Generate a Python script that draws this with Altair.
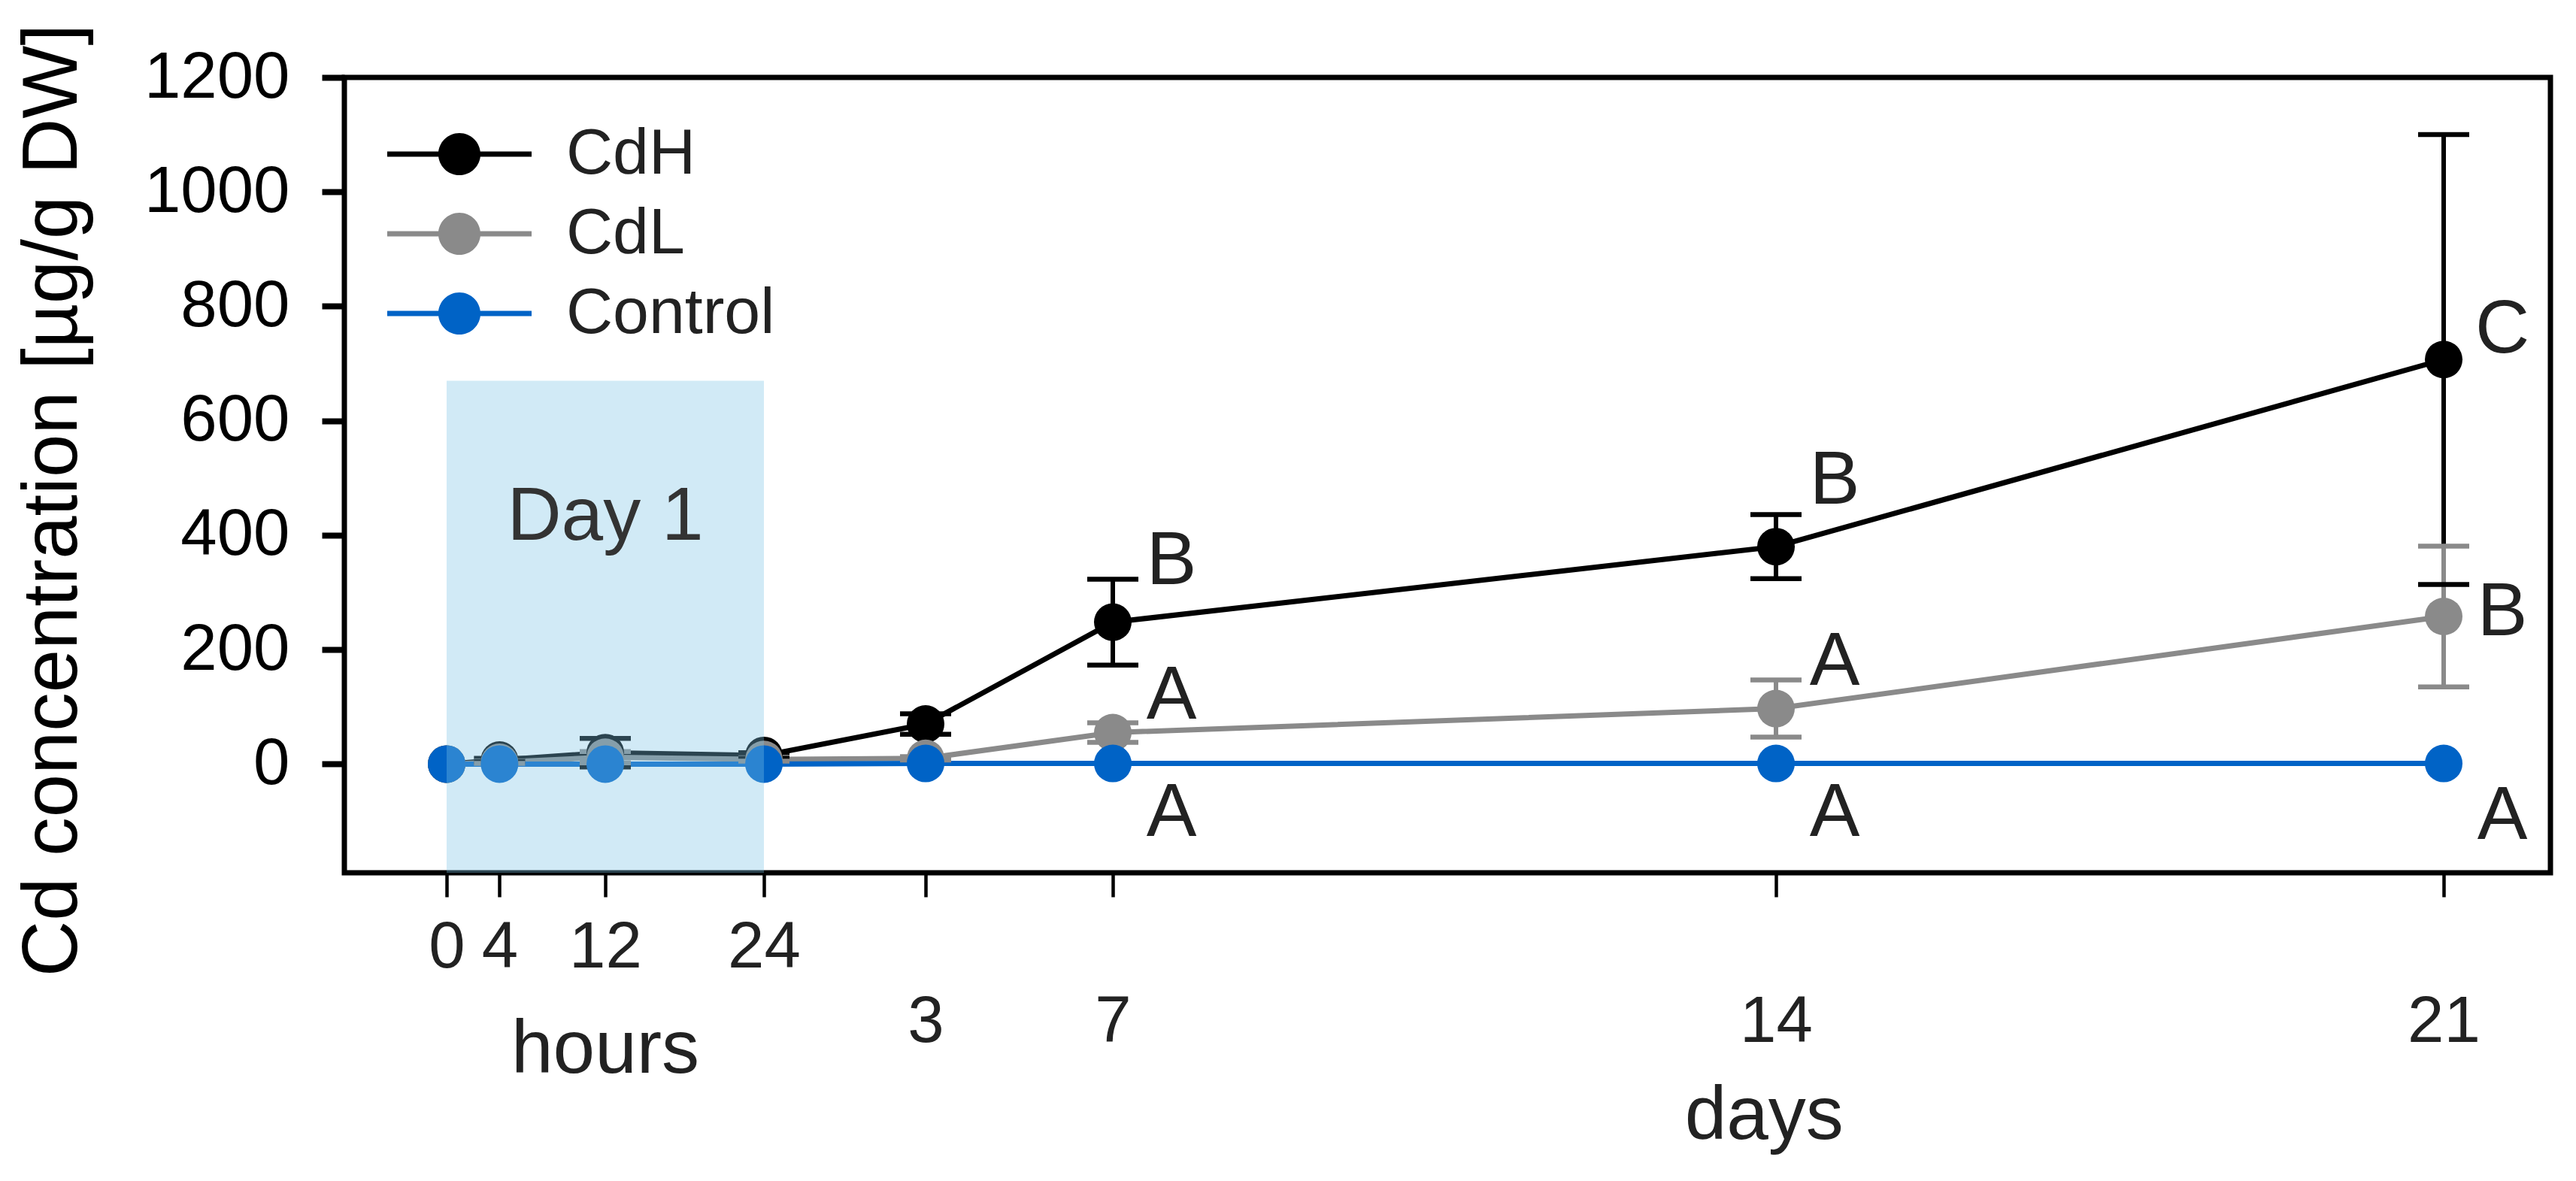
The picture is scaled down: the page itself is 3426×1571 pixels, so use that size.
import altair as alt
import pandas as pd

# ---------------- data ----------------
hours = [0, 4, 12, 24, 72, 168, 336, 504]          # sampling times in hours (72 h = 3 d, ... 504 h = 21 d)
series_names = ["CdH", "CdL", "Control"]
series_colors = ["#000000", "#8a8a8a", "#0063c6"]

cdh = [0, 7, 20, 15, 70, 248, 380, 707]
cdh_err = [0, 3, 25, 5, 18, 75, 56, 393]
cdl = [0, 3, 12, 8, 10, 55, 97, 258]
cdl_err = [0, 2, 10, 3, 3, 17, 50, 123]
control = [0, 0, 0, 0, 1, 1, 1, 1]
control_err = [0, 0, 0, 0, 0, 0, 0, 0]

# significance letters
letter_series = ["CdH", "CdH", "CdH", "CdL", "CdL", "CdL", "Control", "Control", "Control"]
letter_hours = [168, 336, 504, 168, 336, 504, 168, 336, 504]
letter_text = ["B", "B", "C", "A", "A", "B", "A", "A", "A"]
letter_y = [362, 502, 766, 127, 186, 273, -78, -78, -84]

hour_ticks = [0, 4, 12, 24]
day_ticks = [3, 7, 14, 21]

day1_start, day1_end, day1_top = 0, 24, 670
Y_MIN, Y_MAX = -190, 1200

# ---------------- tables ----------------
rows = []
for name, vals, errs in zip(series_names, [cdh, cdl, control], [cdh_err, cdl_err, control_err]):
    for h, v, e in zip(hours, vals, errs):
        rows.append({"series": name, "hours": h, "value": v, "err": e,
                     "lo": v - e, "hi": v + e})
df = pd.DataFrame(rows)

letters_df = pd.DataFrame({"series": letter_series, "hours": letter_hours,
                           "letter": letter_text, "ly": letter_y})
day1_df = pd.DataFrame({"start": [day1_start], "end": [day1_end],
                        "top": [day1_top], "bottom": [Y_MIN]})
day1_label = pd.DataFrame({"hours": [12], "y": [432], "txt": ["Day 1"]})
hours_title = pd.DataFrame({"hours": [12], "txt": ["hours"]})
days_title = pd.DataFrame({"hours": [333], "txt": ["days"]})

FONT = "Liberation Sans"
W, H = 2934, 1058

tick_values = hour_ticks + [d * 24 for d in day_ticks]

x_scale = alt.Scale(domain=[-7.7, 0, 24, 72, 168, 336, 504, 531],
                    range=[0, 136, 558, 773, 1022, 1904, 2792, 2934],
                    zero=False, nice=False)
y_scale = alt.Scale(domain=[Y_MIN, Y_MAX], zero=False, nice=False)

x_axis = alt.Axis(values=tick_values, title=None, domain=False, grid=False,
                  labelExpr="datum.value <= 24 ? datum.value : datum.value / 24",
                  labelFontSize=87, labelColor="#222222", labelFont=FONT,
                  labelPadding={"condition": {"test": "datum.value > 24", "value": 123}, "value": 24},
                  tickSize=32, tickWidth=4.5, tickColor="black",
                  labelFlush=False, labelOverlap=False, labelBound=False)
y_axis = alt.Axis(values=list(range(0, 1201, 200)), title="Cd concentration [µg/g DW]",
                  format="d", labelLimit=1000,
                  domain=False, grid=False, labelFontSize=87, labelColor="black",
                  labelFont=FONT, labelPadding=43, tickSize=30, tickWidth=8,
                  tickColor="black", titleFontSize=103, titleFontWeight="normal",
                  titleColor="black", titleFont=FONT, titleX=-388, titleY=562,
                  titleBaseline="middle", titleAngle=-90, titleLimit=3000)

color_scale = alt.Scale(domain=series_names, range=series_colors)

# legend glyph: a line with a filled circle (unit = half the symbol size)
legend_path = ("M-1.574,-0.057L1.574,-0.057L1.574,0.057L-1.574,0.057Z "
               "M-0.46,0A0.46,0.46 0 1,1 0.46,0A0.46,0.46 0 1,1 -0.46,0Z")
LEG_SIZE = 14884

legend = alt.Legend(title=None, orient="none", legendX=92, legendY=41,
                    symbolType=legend_path, symbolSize=LEG_SIZE,
                    symbolStrokeWidth=0, symbolOpacity=1,
                    labelFontSize=86, labelColor="#222222", labelFont=FONT,
                    labelOffset=81, rowPadding=2,
                    padding=0, labelLimit=1000)

X = alt.X("hours:Q", scale=x_scale, axis=x_axis)
Y = alt.Y("value:Q", scale=y_scale, axis=y_axis)
C = alt.Color("series:N", scale=color_scale, legend=legend)

base = alt.Chart(df)

lines = base.mark_line(strokeWidth=7).encode(x=X, y=Y, color=C, detail="series:N")

stems = base.mark_rule(strokeWidth=6).encode(
    x=alt.X("hours:Q", scale=x_scale),
    y=alt.Y("lo:Q", scale=y_scale), y2="hi:Q", color=C
).transform_filter("datum.err > 0")

caps_hi = base.mark_rule(strokeWidth=6.5, xOffset=-34, x2Offset=34).encode(
    x=alt.X("hours:Q", scale=x_scale), x2="hours:Q",
    y=alt.Y("hi:Q", scale=y_scale), color=C
).transform_filter("datum.err > 0")

caps_lo = base.mark_rule(strokeWidth=6.5, xOffset=-34, x2Offset=34).encode(
    x=alt.X("hours:Q", scale=x_scale), x2="hours:Q",
    y=alt.Y("lo:Q", scale=y_scale), color=C
).transform_filter("datum.err > 0")

points = base.mark_point(filled=True, size=2500, opacity=1, strokeWidth=0).encode(
    x=alt.X("hours:Q", scale=x_scale),
    y=alt.Y("value:Q", scale=y_scale),
    color=C)

day1_rect = alt.Chart(day1_df).mark_rect(color="#7cc4e6", opacity=0.35).encode(
    x=alt.X("start:Q", scale=x_scale), x2="end:Q",
    y=alt.Y("top:Q", scale=y_scale), y2="bottom:Q")

day1_text = alt.Chart(day1_label).mark_text(fontSize=100, font=FONT, color="#333333",
                                            align="center", baseline="middle").encode(
    x=alt.X("hours:Q", scale=x_scale), y=alt.Y("y:Q", scale=y_scale), text="txt:N")

letters = alt.Chart(letters_df).mark_text(fontSize=100, font=FONT, color="#222222",
                                          align="center", baseline="middle", dx=78, dy=6).encode(
    x=alt.X("hours:Q", scale=x_scale), y=alt.Y("ly:Q", scale=y_scale), text="letter:N")

hours_lbl = alt.Chart(hours_title).mark_text(fontSize=100, font=FONT, color="#222222",
                                             align="center", baseline="alphabetic").encode(
    x=alt.X("hours:Q", scale=x_scale), y=alt.value(1324), text="txt:N")

days_lbl = alt.Chart(days_title).mark_text(fontSize=100, font=FONT, color="#222222",
                                           align="center", baseline="alphabetic").encode(
    x=alt.X("hours:Q", scale=x_scale), y=alt.value(1412), text="txt:N")

chart = alt.layer(lines, stems, caps_hi, caps_lo, points, day1_rect, day1_text,
                  letters, hours_lbl, days_lbl).properties(
    width=W, height=H,
    padding={"left": 450, "top": 95, "right": 26, "bottom": 402},
    autosize=alt.AutoSizeParams(type="none"),
).configure(font=FONT).configure_view(stroke="black", strokeWidth=7).configure_legend(
    symbolType=legend_path, symbolSize=LEG_SIZE, symbolStrokeWidth=0
)

chart.save("out.html", embed_options={"renderer": "svg", "actions": False})
